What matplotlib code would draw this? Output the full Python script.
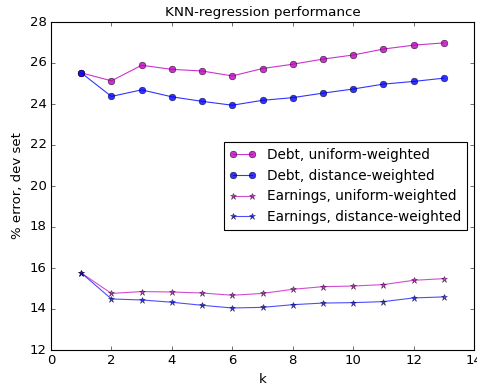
import matplotlib
matplotlib.use("Agg")
import matplotlib.pyplot as plt

plt.style.use('classic')

k = list(range(1, 14))
debt_uniform = [25.52, 25.13, 25.89, 25.69, 25.61, 25.37, 25.73, 25.94, 26.19, 26.39, 26.68, 26.87, 26.98]
debt_distance = [25.52, 24.37, 24.69, 24.35, 24.13, 23.94, 24.18, 24.31, 24.53, 24.73, 24.97, 25.10, 25.26]
earn_uniform = [15.76, 14.76, 14.85, 14.83, 14.78, 14.67, 14.76, 14.96, 15.09, 15.12, 15.19, 15.40, 15.48]
earn_distance = [15.76, 14.49, 14.44, 14.33, 14.18, 14.05, 14.08, 14.21, 14.29, 14.31, 14.36, 14.54, 14.59]

dpi = 79.5
fig = plt.figure(figsize=(477/dpi, 383/dpi), dpi=dpi)
ax = fig.add_axes([51/477, 1-350/383, 423/477, 328/383])

common = dict(markeredgecolor='k', markeredgewidth=0.5, markersize=6)
ax.plot(k, debt_uniform, '-', color='m', marker='o', alpha=0.8, label='Debt, uniform-weighted', **common)
ax.plot(k, debt_distance, '-', color='b', marker='o', alpha=0.8, label='Debt, distance-weighted', **common)
ax.plot(k, earn_uniform, '-', color='m', marker='*', alpha=0.7, label='Earnings, uniform-weighted', **common)
ax.plot(k, earn_distance, '-', color='b', marker='*', alpha=0.7, label='Earnings, distance-weighted', **common)

ax.set_xlim(0, 14)
ax.set_ylim(12, 28)
ax.set_xticks(range(0, 15, 2))
ax.set_yticks(range(12, 29, 2))
ax.set_xlabel('k')
ax.set_ylabel('% error, dev set')
ax.set_title('KNN-regression performance', fontsize=12.2)
ax.legend(loc='center right', numpoints=2, fontsize=12.4)

fig.savefig('out.png', dpi=dpi)
